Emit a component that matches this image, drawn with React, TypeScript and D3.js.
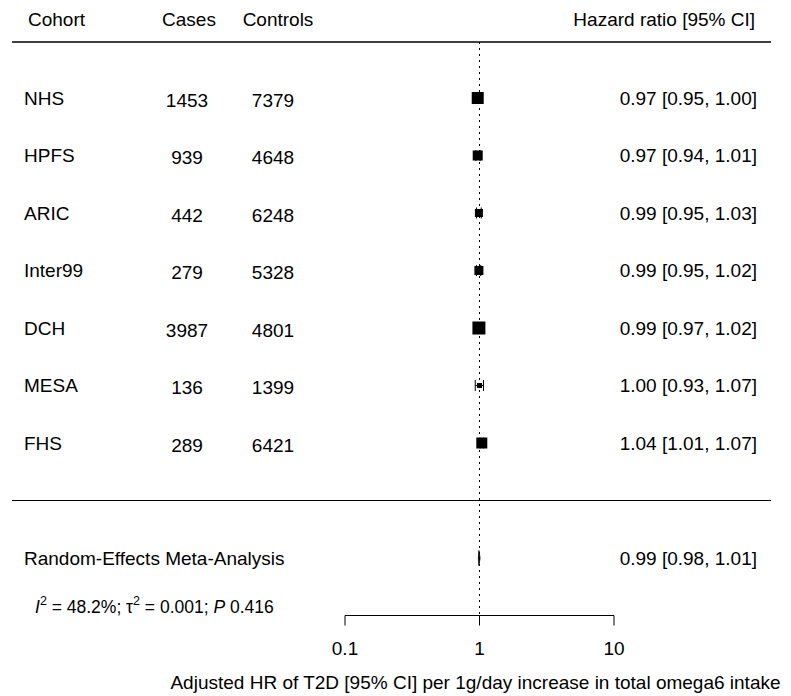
import React from "react";
import * as d3 from "d3";

const cohorts = ["NHS", "HPFS", "ARIC", "Inter99", "DCH", "MESA", "FHS"];
const cases = [1453, 939, 442, 279, 3987, 136, 289];
const controls = [7379, 4648, 6248, 5328, 4801, 1399, 6421];
const hr = [0.97, 0.97, 0.99, 0.99, 0.99, 1.0, 1.04];
const lower = [0.95, 0.94, 0.95, 0.95, 0.97, 0.93, 1.01];
const upper = [1.0, 1.01, 1.03, 1.02, 1.02, 1.07, 1.07];
const weights = [144, 100, 64, 81, 169, 25, 121];
const hrLabels = [
  "0.97 [0.95, 1.00]",
  "0.97 [0.94, 1.01]",
  "0.99 [0.95, 1.03]",
  "0.99 [0.95, 1.02]",
  "0.99 [0.97, 1.02]",
  "1.00 [0.93, 1.07]",
  "1.04 [1.01, 1.07]",
];
const metaLabel = "Random-Effects Meta-Analysis";
const metaEst = [0.99, 0.98, 1.01];
const metaText = "0.99 [0.98, 1.01]";
const axisTicks = [0.1, 1, 10];
const xTitle = "Adjusted HR of T2D [95% CI] per 1g/day increase in total omega6 intake";

const W = 791;
const H = 696;
const FONT = "'Liberation Sans', Arial, Helvetica, sans-serif";

export default function App() {
  const x = d3.scaleLog().domain([0.1, 10]).range([345, 614]);
  const y = d3.scaleLinear().domain([0, 10]).range([40.5, 615.5]);
  const box = d3.scaleSqrt().domain([0, 169]).range([0, 13]);
  const fs = 19;
  const colCases = 187;
  const colControls = 273;
  const colRight = 757;
  const xOne = x(1);

  return (
    <svg width={W} height={H} style={{ position: "absolute", left: 0, top: 0, background: "#fff" }} fontFamily={FONT} fontSize={fs}>
      <rect width={W} height={H} fill="#fff" />
      {/* header */}
      <text x={28} y={y(-0.37)} dominantBaseline="central">Cohort</text>
      <text x={189} y={y(-0.37)} textAnchor="middle" dominantBaseline="central">Cases</text>
      <text x={278} y={y(-0.37)} textAnchor="middle" dominantBaseline="central">Controls</text>
      <text x={755} y={y(-0.37)} textAnchor="end" dominantBaseline="central">Hazard ratio [95% CI]</text>
      <line x1={12} x2={771} y1={42} y2={42} stroke="#000" strokeWidth={1.3} />
      <line x1={12} x2={771} y1={y(8)} y2={y(8)} stroke="#000" strokeWidth={1} />
      {/* reference line */}
      <line x1={xOne} x2={xOne} y1={42} y2={y(10)} stroke="#000" strokeWidth={1} strokeDasharray="2,4" />
      {cohorts.map((c, i) => {
        const yy = y(i + 1);
        const s = box(weights[i]);
        return (
          <g key={c}>
            <text x={24} y={yy} dominantBaseline="central">{c}</text>
            <text x={colCases} y={yy + 2} textAnchor="middle" dominantBaseline="central">{cases[i]}</text>
            <text x={colControls} y={yy + 2} textAnchor="middle" dominantBaseline="central">{controls[i]}</text>
            <text x={colRight} y={yy} textAnchor="end" dominantBaseline="central">{hrLabels[i]}</text>
            <line x1={x(lower[i])} x2={x(upper[i])} y1={yy} y2={yy} stroke="#000" />
            <line x1={x(lower[i])} x2={x(lower[i])} y1={yy - 5.5} y2={yy + 5.5} stroke="#000" />
            <line x1={x(upper[i])} x2={x(upper[i])} y1={yy - 5.5} y2={yy + 5.5} stroke="#000" />
            <rect x={x(hr[i]) - s / 2} y={yy - s / 2} width={s} height={s} fill="#000" />
          </g>
        );
      })}
      {/* meta analysis */}
      <text x={24} y={y(9)} dominantBaseline="central">{metaLabel}</text>
      <text x={colRight} y={y(9)} textAnchor="end" dominantBaseline="central">{metaText}</text>
      <polygon
        points={[
          [x(metaEst[1]), y(9)],
          [x(metaEst[0]), y(9) - 7.5],
          [x(metaEst[2]), y(9)],
          [x(metaEst[0]), y(9) + 7.5],
        ]
          .map((p) => p.join(","))
          .join(" ")}
        fill="#000"
        stroke="#000"
        strokeWidth={0.8}
      />
      <text x={35} y={y(9.85)} dominantBaseline="central" fontSize={17.5}>
        <tspan fontStyle="italic">I</tspan>
        <tspan dy={-6} fontSize={12.5}>2</tspan>
        <tspan dy={6}> = 48.2%; τ</tspan>
        <tspan dy={-6} fontSize={12.5}>2</tspan>
        <tspan dy={6}> = 0.001; </tspan>
        <tspan fontStyle="italic">P</tspan>
        <tspan> 0.416</tspan>
      </text>
      {/* axis */}
      <line x1={x(0.1)} x2={x(10)} y1={y(10)} y2={y(10)} stroke="#000" />
      {axisTicks.map((t) => (
        <g key={t}>
          <line x1={x(t)} x2={x(t)} y1={y(10)} y2={y(10) + 10} stroke="#000" />
          <text x={x(t)} y={648} textAnchor="middle" dominantBaseline="central">{String(t)}</text>
        </g>
      ))}
      <text x={xOne - 4} y={682} textAnchor="middle" dominantBaseline="central">{xTitle}</text>
    </svg>
  );
}
